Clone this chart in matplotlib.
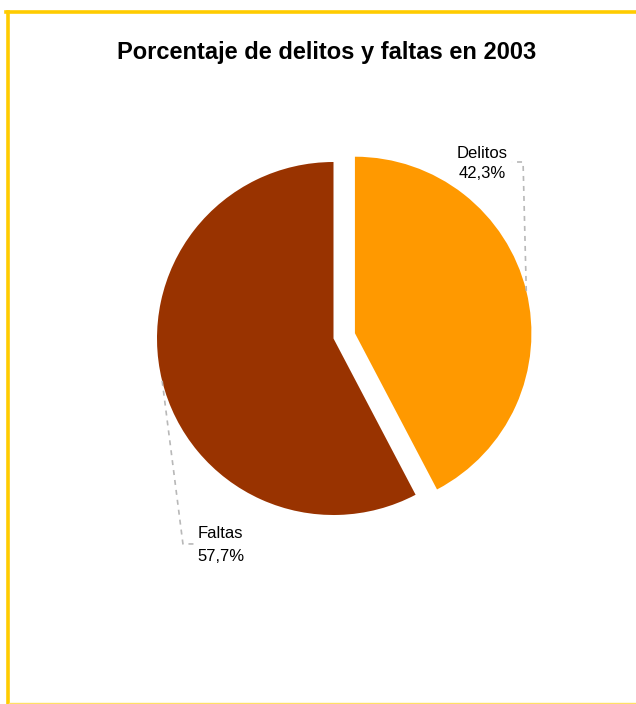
import matplotlib
matplotlib.use("Agg")
import matplotlib.pyplot as plt
import matplotlib.lines as mlines
import numpy as np

plt.rcParams['font.family'] = ['Liberation Sans', 'DejaVu Sans']

labels = ['Delitos', 'Faltas']
values = [42.3, 57.7]
pct_text = ['42,3%', '57,7%']
colors = ['#FF9900', '#993300']
explode = [0.125, 0.0]

fig = plt.figure(figsize=(6.36, 7.04), dpi=100)
ax = fig.add_axes([0, 0, 1, 1])
ax.axis('off')

wedges, _ = ax.pie(values, colors=colors, explode=explode, startangle=90,
                   counterclock=False, radius=1.0, wedgeprops=dict(linewidth=0))
# 176.5 px per unit radius, pie centre at (333.5, 338.5) px
ax.set_xlim(-333.5 / 176.5, (636 - 333.5) / 176.5)
ax.set_ylim((338.5 - 704) / 176.5, 338.5 / 176.5)
ax.set_aspect('equal')

# leader lines: from the wedge edge at its middle angle, to an elbow, then short horizontal
elbows = [(1.074, 1.0), (-0.853, -1.164)]
ends = [(1.011, 1.0), (-0.785, -1.164)]
name_pos = [(0.841, 1.0244), (-0.640, -1.1286)]
pct_pos = [(0.841, 0.911), (-0.640, -1.2606)]
for w, lab, pct, e1, e2, npos, ppos in zip(wedges, labels, pct_text, elbows, ends, name_pos, pct_pos):
    mid = np.deg2rad((w.theta1 + w.theta2) / 2)
    cx, cy = w.center
    px, py = cx + w.r * np.cos(mid), cy + w.r * np.sin(mid)
    ax.plot([px, e1[0], e2[0]], [py, e1[1], e2[1]], color='#B8B8B8',
            linestyle=(0, (3, 3)), linewidth=1.2)
    ax.text(npos[0], npos[1], lab, ha='center', va='baseline', fontsize=12, color='black')
    ax.text(ppos[0], ppos[1], pct, ha='center', va='baseline', fontsize=12, color='black')

fig.text(327 / 636, 1 - 53 / 704, 'Porcentaje de delitos y faltas en 2003',
         ha='center', va='center', fontsize=17, fontweight='bold')

# frame around the chart
fig.add_artist(mlines.Line2D([6 / 636, 1], [1 - 11.5 / 704] * 2, color='#FFCC00', linewidth=2.6))
fig.add_artist(mlines.Line2D([7.7 / 636] * 2, [0, 1 - 11.5 / 704], color='#FFCC00', linewidth=2.6))
fig.add_artist(mlines.Line2D([9 / 636, 1], [0.6 / 704] * 2, color='#FFE066', linewidth=1.0))

fig.savefig('out.png', dpi=100)
